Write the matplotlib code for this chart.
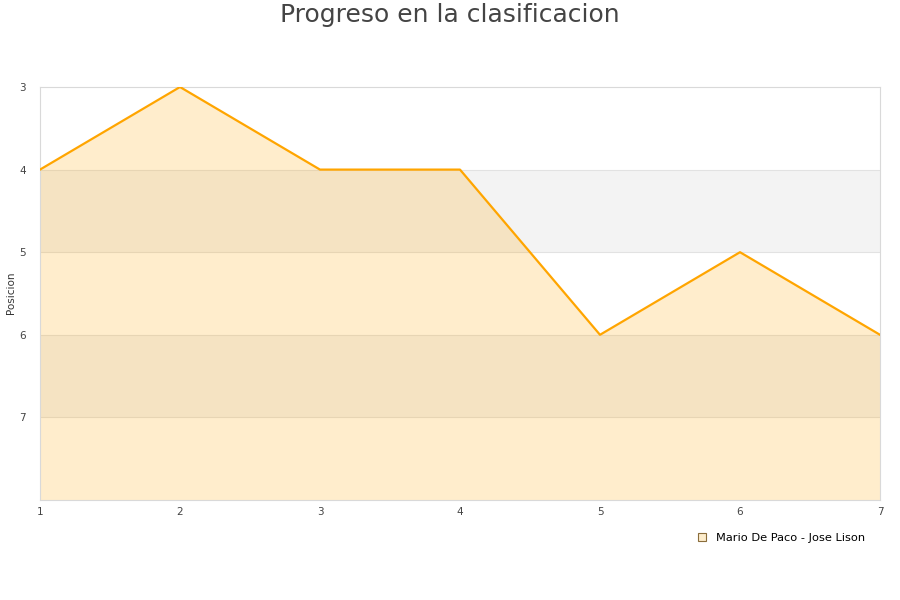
import matplotlib.pyplot as plt

jornadas = [1, 2, 3, 4, 5, 6, 7]
posicion = [4, 3, 4, 4, 6, 5, 6]
serie = 'Mario De Paco - Jose Lison'
y_ticks = [3, 4, 5, 6, 7]

fig = plt.figure(figsize=(9, 6), dpi=100)
ax = fig.add_axes([40 / 900, 100 / 600, 840 / 900, 413 / 600])

# alternating bands
for lo in [4, 6]:
    ax.axhspan(lo, lo + 1, color='#f3f3f3', zorder=0, lw=0)
for y in y_ticks[1:]:
    ax.axhline(y, color='#e2e2e2', lw=0.8, zorder=1)

ax.fill_between(jornadas, posicion, 8, color='#ffa500', alpha=0.2, lw=0, zorder=2)
ax.plot(jornadas, posicion, color='#ffa500', lw=1.6, zorder=3)
ax.plot([], [], 's', color='#fdedcc', markeredgecolor='#8a6d3b', markersize=6,
        markeredgewidth=0.8, label=serie)

ax.set_xlim(1, 7)
ax.set_ylim(8, 3)
ax.set_xticks(jornadas)
ax.set_yticks(y_ticks)
ax.tick_params(length=0, labelsize=7.5, colors='#444444')
ax.tick_params(axis='x', pad=5)
ax.tick_params(axis='y', pad=10)
for s in ax.spines.values():
    s.set_color('#d9d9d9')
fig.text(11 / 900, 1 - 293 / 600, 'Posicion', rotation=90, ha='center', va='center',
         fontsize=7.5, color='#333333')

fig.text(0.5, 0.995, 'Progreso en la clasificacion', ha='center', va='top',
         fontsize=18, color='#444444')
ax.legend(loc='upper right', bbox_to_anchor=(0.995, -0.056), frameon=False,
          fontsize=8.2, handlelength=0.8, handletextpad=0.9)

fig.savefig('out.png', dpi=100)
